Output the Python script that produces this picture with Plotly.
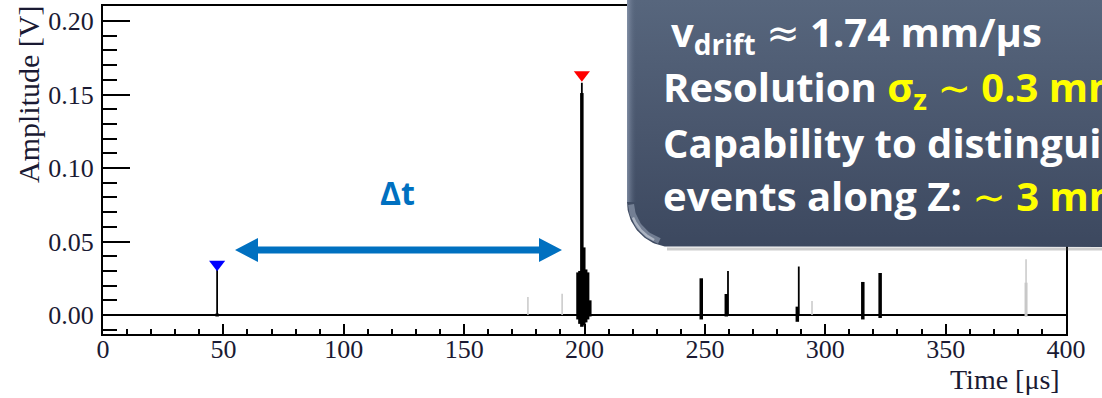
import numpy as np
import plotly.graph_objects as go

W, H = 1102, 398
# plot area in page pixels
PL, PR, PT, PB = 103, 1066, 6, 334

# ---------------- data ----------------
x_range = [0, 400]
y_range = [-0.0129, 0.2102]

x_tick_vals = [0, 50, 100, 150, 200, 250, 300, 350, 400]
x_tick_text = ["0", "50", "100", "150", "200", "250", "300", "350", "400"]
y_tick_vals = [0.00, 0.05, 0.10, 0.15, 0.20]
y_tick_text = ["0.00", "0.05", "0.10", "0.15", "0.20"]

baseline_time = [0, 400]
baseline_amp = [0.0, 0.0]

# thin black pulse lines (time, low, high)
thin_t = [47.4, 198.9, 259.6, 289.0]
thin_lo = [0.0, 0.0, 0.0, 0.0]
thin_hi = [0.033, 0.158, 0.030, 0.033]

# thick black pulse parts
thick_t = [47.4, 197.3, 198.1, 198.9, 199.7, 200.5, 201.3, 202.2,
           248.5, 258.9, 288.4, 315.6, 322.8]
thick_lo = [-0.001, -0.003, -0.006, -0.008, -0.007, -0.005, -0.003, -0.001,
            -0.003, -0.001, -0.0046, -0.003, -0.002]
thick_hi = [0.001, 0.029, 0.030, 0.151, 0.046, 0.031, 0.029, 0.010,
            0.025, 0.0143, 0.0057, 0.0225, 0.0286]

# grey (other channel) pulses
grey_t = [176.5, 190.7, 294.5, 383.4]
grey_lo = [0.0, 0.0, 0.0, -0.001]
grey_hi = [0.0123, 0.0144, 0.0096, 0.038]
grey_thick_t = [383.4]
grey_thick_lo = [-0.001]
grey_thick_hi = [0.022]

# found peaks
peak_t = [47.4, 198.9]
peak_amp = [0.0345, 0.1635]
peak_colors = ["#0000ff", "#ff0000"]


def segs(ts, lo, hi):
    xs, ys = [], []
    for t, a, b in zip(ts, lo, hi):
        xs += [t, t, None]
        ys += [a, b, None]
    return xs, ys


fig = go.Figure()

fig.add_trace(go.Scatter(x=baseline_time, y=baseline_amp, mode="lines",
                         line=dict(color="black", width=2), hoverinfo="skip"))
gx, gy = segs(grey_t, grey_lo, grey_hi)
fig.add_trace(go.Scatter(x=gx, y=gy, mode="lines", line=dict(color="#c8c8c8", width=1.5)))
gx, gy = segs(grey_thick_t, grey_thick_lo, grey_thick_hi)
fig.add_trace(go.Scatter(x=gx, y=gy, mode="lines", line=dict(color="#c8c8c8", width=3)))
bx, by = segs(thin_t, thin_lo, thin_hi)
fig.add_trace(go.Scatter(x=bx, y=by, mode="lines", line=dict(color="black", width=1.8)))
bx, by = segs(thick_t, thick_lo, thick_hi)
fig.add_trace(go.Scatter(x=bx, y=by, mode="lines", line=dict(color="black", width=3.5)))
fig.add_trace(go.Scatter(x=peak_t, y=peak_amp, mode="markers",
                         marker=dict(symbol="triangle-down", size=14, color=peak_colors,
                                     line=dict(width=0)), cliponaxis=False))

# ---------------- overlay (page pixel coords) ----------------
BLUE = "#0070c0"
# delta-t double arrow
ax_l, ax_r, ay, half_w, head_l, head_h = 235, 562, 250, 3.5, 23, 12
arrow_x = [ax_l, ax_l + head_l, ax_l + head_l, ax_r - head_l, ax_r - head_l, ax_r,
           ax_r - head_l, ax_r - head_l, ax_l + head_l, ax_l + head_l, ax_l]
arrow_y = [ay, ay - head_h, ay - half_w, ay - half_w, ay - head_h, ay,
           ay + head_h, ay + half_w, ay + half_w, ay + head_h, ay]
fig.add_trace(go.Scatter(x=arrow_x, y=arrow_y, xaxis="x2", yaxis="y2", mode="lines",
                         fill="toself", fillcolor=BLUE, line=dict(width=0, color=BLUE)))

# callout box
bl, bb, r = 627, 247, 45
th = np.linspace(np.pi / 2, np.pi, 40)
arc_x = list(bl + r + r * np.cos(th))
arc_y = list(bb - r + r * np.sin(th))
box_x = [bl, 1130, 1130] + arc_x
box_y = [-30, -30, bb] + arc_y
fig.add_trace(go.Scatter(x=[bl + 40, 1130], y=[bb + 2, bb + 2], xaxis="x2", yaxis="y2",
                         mode="lines", line=dict(color="rgba(90,90,90,0.3)", width=3)))
fig.add_trace(go.Scatter(x=box_x, y=box_y, xaxis="x2", yaxis="y2", mode="lines",
                         fill="toself", line=dict(width=0),
                         fillgradient=dict(type="vertical", start=0, stop=bb,
                                           colorscale=[[0, "#57667d"], [0.5, "#4a576e"],
                                                       [1, "#3c485f"]])))
# left bevel
fig.add_trace(go.Scatter(x=[bl, bl + 9, bl + 9, bl], y=[-30, -30, bb - r, bb - r],
                         xaxis="x2", yaxis="y2", mode="lines", fill="toself",
                         line=dict(width=0),
                         fillgradient=dict(type="horizontal", start=bl, stop=bl + 9,
                                           colorscale=[[0, "rgba(150,163,185,0.7)"],
                                                       [1, "rgba(90,104,128,0)"]])))
th2 = np.linspace(np.pi * 0.6, np.pi * 0.98, 30)
fig.add_trace(go.Scatter(x=list(bl + r + (r - 4) * np.cos(th2)),
                         y=list(bb - r + (r - 4) * np.sin(th2)),
                         xaxis="x2", yaxis="y2", mode="lines",
                         line=dict(color="rgba(180,190,208,0.45)", width=6)))
th3 = np.linspace(np.pi * 0.64, np.pi * 0.88, 30)
fig.add_trace(go.Scatter(x=list(bl + r + (r - 3) * np.cos(th3)),
                         y=list(bb - r + (r - 3) * np.sin(th3)),
                         xaxis="x2", yaxis="y2", mode="lines",
                         line=dict(color="rgba(230,234,242,0.5)", width=2.5)))

tick_font = dict(family="Liberation Serif", size=26, color="#1a1a33")
fig.update_layout(
    width=W, height=H, showlegend=False,
    margin=dict(l=0, r=0, t=0, b=0, pad=0, autoexpand=False),
    paper_bgcolor="white", plot_bgcolor="rgba(0,0,0,0)",
    xaxis=dict(domain=[PL / W, PR / W], range=x_range, anchor="y", automargin=False,
               tickmode="array", tickvals=x_tick_vals, ticktext=x_tick_text,
               ticks="inside", ticklen=10, tickwidth=2, tickcolor="black",
               minor=dict(tickmode="linear", tick0=0, dtick=10, ticks="inside",
                          ticklen=5, tickwidth=2, tickcolor="black"),
               showline=True, linewidth=2, linecolor="black", mirror=True,
               showgrid=False, zeroline=False, tickfont=tick_font,
               ticklabelstandoff=-9),
    yaxis=dict(domain=[(H - PB) / H, (H - PT) / H], range=y_range, anchor="x",
               automargin=False,
               tickmode="array", tickvals=y_tick_vals, ticktext=y_tick_text,
               ticks="inside", ticklen=27, tickwidth=2, tickcolor="black",
               minor=dict(tickmode="linear", tick0=0, dtick=0.01, ticks="inside",
                          ticklen=14, tickwidth=2, tickcolor="black"),
               showline=True, linewidth=2, linecolor="black", mirror=True,
               showgrid=False, zeroline=False, tickfont=tick_font,
               ticklabelstandoff=2),
    xaxis2=dict(domain=[0, 1], range=[0, W], anchor="y2", visible=False,
                fixedrange=True, automargin=False),
    yaxis2=dict(domain=[0, 1], range=[H, 0], anchor="x2", visible=False,
                fixedrange=True, automargin=False),
)

fig.add_annotation(x=28, y=95, xref="x2", yref="y2", text="Amplitude [V]",
                   textangle=-90, showarrow=False,
                   font=dict(family="Liberation Serif", size=30, color="#1a1a33"),
                   xanchor="center", yanchor="middle")
fig.add_annotation(x=1062, y=379, xref="x2", yref="y2", text="Time [μs]",
                   showarrow=False,
                   font=dict(family="Liberation Serif", size=28, color="#1a1a33"),
                   xanchor="right", yanchor="middle")

fig.add_annotation(x=397, y=192, xref="x2", yref="y2", text="Δt", showarrow=False,
                   font=dict(family="Open Sans", size=32, color=BLUE, weight="bold"),
                   xanchor="center", yanchor="middle")

YEL = "#ffff00"
cf = 40
callout_font = dict(family="Open Sans", size=cf, color="white", weight="bold")
approx = '<span style="font-weight:normal;font-family:DejaVu Sans">≈</span>'
tilde = '<span style="font-weight:normal;font-family:DejaVu Sans">∼</span>'
# bottom of a line above the visible area (cut by the page top)
fig.add_annotation(x=815, y=9, xref="x2", yref="y2", text="drift",
                   showarrow=False, xanchor="left", yanchor="bottom",
                   font=dict(family="Open Sans", size=25, color=YEL, weight="bold"))
lines = [
    (669, 45, f"v<sub>drift</sub> {approx} 1.74 mm/μs"),
    (661, 100, f'Resolution <span style="color:{YEL}">σ<sub>z</sub> {tilde} 0.3 mm</span>'),
    (661, 154, "Capability to distinguish"),
    (661, 207, f'events along Z: <span style="color:{YEL}">{tilde} 3 mm</span>'),
]
for lx, base, txt in lines:
    fig.add_annotation(x=lx, y=base - 0.30 * cf, xref="x2", yref="y2", text=txt,
                       showarrow=False, xanchor="left", yanchor="middle",
                       font=callout_font)

fig.write_html("out.html", config={"displayModeBar": False},
               post_script="document.body.style.margin='0';"
                           "document.body.style.overflow='hidden';")
